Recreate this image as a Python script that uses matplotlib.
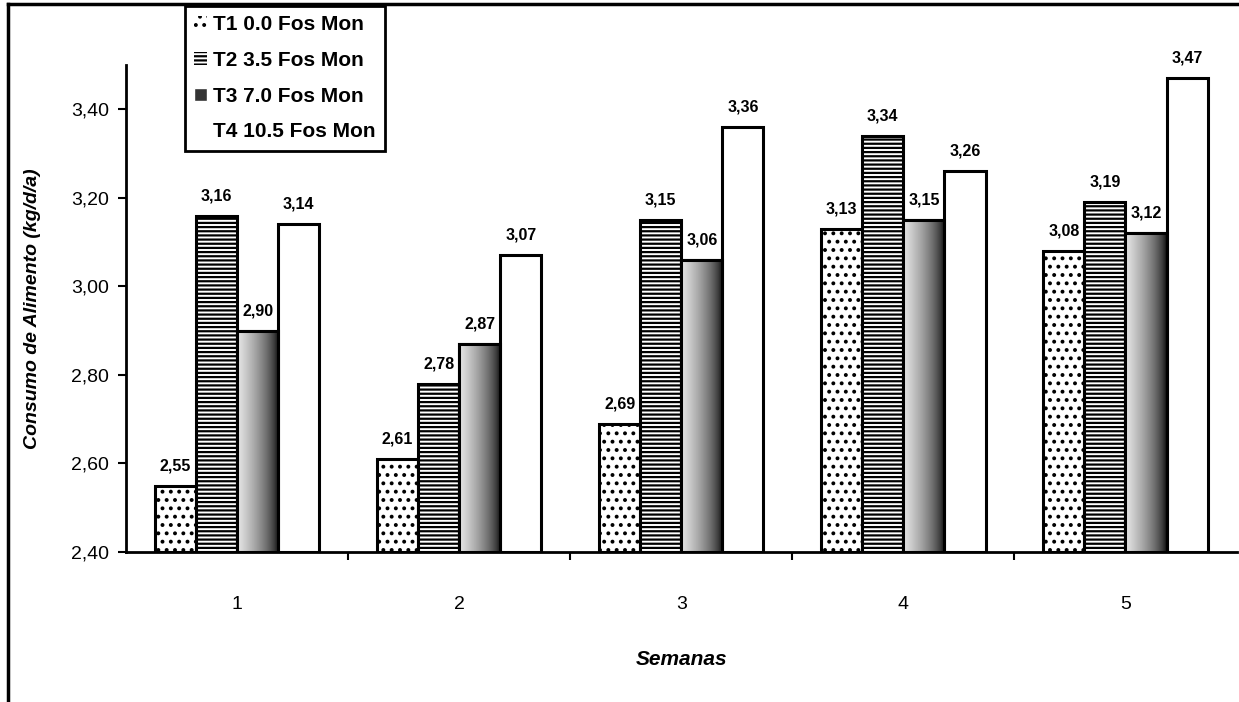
import numpy as np
import matplotlib.pyplot as plt
from matplotlib.lines import Line2D
from matplotlib.patches import Patch
from matplotlib.ticker import FuncFormatter, FixedLocator

plt.rcParams['font.family'] = ['Liberation Sans', 'DejaVu Sans']
plt.rcParams['hatch.linewidth'] = 1.6

semanas = ['1', '2', '3', '4', '5']
series = ['T1 0.0 Fos Mon', 'T2 3.5 Fos Mon', 'T3 7.0 Fos Mon', 'T4 10.5 Fos Mon']
t1 = [2.55, 2.61, 2.69, 3.13, 3.08]
t2 = [3.16, 2.78, 3.15, 3.34, 3.19]
t3 = [2.90, 2.87, 3.06, 3.15, 3.12]
t4 = [3.14, 3.07, 3.36, 3.26, 3.47]
valores = [t1, t2, t3, t4]

fig = plt.figure(figsize=(12.39, 7.02), dpi=100)
ax = fig.add_axes([0.1017, 0.2137, 0.8963, 0.6937])

base = 2.40
w = 0.185
x = np.arange(1, len(semanas) + 1)
estilos = [dict(facecolor='white', hatch='..'),
           dict(facecolor='white', hatch='----'),
           dict(facecolor='white'),
           dict(facecolor='white')]

for i, (vals, st) in enumerate(zip(valores, estilos)):
    pos = x + (i - 1.5) * w
    bars = ax.bar(pos, np.array(vals) - base, bottom=base, width=w,
                  edgecolor='black', linewidth=2.2, label=series[i], **st)
    if i == 2:
        # degradado claro -> negro como en el original
        grad = np.linspace(0.85, 0.0, 64).reshape(1, -1) ** 0.6
        for b in bars:
            x0, y0 = b.get_x(), b.get_y()
            im = ax.imshow(grad, cmap='gray', vmin=0, vmax=1, aspect='auto',
                           extent=[x0, x0 + b.get_width(), y0, y0 + b.get_height()],
                           zorder=b.get_zorder() + 0.1)
            im.set_clip_path(b)
            b2 = plt.Rectangle((x0, y0), b.get_width(), b.get_height(), fill=False,
                               edgecolor='black', linewidth=2.2, zorder=b.get_zorder() + 0.2)
            ax.add_patch(b2)
    for p, v in zip(pos, vals):
        ax.annotate(f'{v:.2f}'.replace('.', ','), (p, v), xytext=(0, 9),
                    textcoords='offset points', ha='center', va='bottom',
                    fontsize=11.5, fontweight='bold')

ax.set_xlim(0.5, 5.5)
ax.set_ylim(2.40, 3.50)
ax.set_yticks(np.arange(2.40, 3.41, 0.20))
ax.yaxis.set_major_formatter(FuncFormatter(lambda v, p: f'{v:.2f}'.replace('.', ',')))
ax.set_xticks(x)
ax.set_xticklabels(semanas)
ax.xaxis.set_minor_locator(FixedLocator(np.arange(1.5, 5.0, 1.0)))
ax.tick_params(axis='x', which='major', length=0, pad=32, labelsize=14)
ax.tick_params(axis='x', which='minor', length=6, width=1.5, direction='out')
ax.tick_params(axis='y', length=6, width=1.5, direction='out', labelsize=14, pad=6)

for s in ['top', 'right']:
    ax.spines[s].set_visible(False)
for s in ['left', 'bottom']:
    ax.spines[s].set_linewidth(2)

ax.set_xlabel('Semanas', fontsize=15, fontweight='bold', style='italic', labelpad=26)
ax.set_ylabel('Consumo de Alimento (kg/d/a)', fontsize=14, fontweight='bold',
              style='italic', labelpad=22)

# simbolos de la leyenda
handles = [Patch(facecolor='white', edgecolor='black', hatch='..', linewidth=0),
           Patch(facecolor='white', edgecolor='black', hatch='----', linewidth=0),
           Patch(facecolor='#333333', edgecolor='white'),
           Patch(facecolor='white', edgecolor='white')]
leg = fig.legend(handles=handles, labels=series, loc='upper left',
                 bbox_to_anchor=(185 / 1239, 1 - 6 / 702), borderaxespad=0,
                 prop=dict(size=15, weight='bold'), handlelength=0.6, handleheight=0.6,
                 handletextpad=0.3, borderpad=0.45, labelspacing=0.8,
                 fancybox=False, framealpha=1)
leg.get_frame().set_edgecolor('black')
leg.get_frame().set_linewidth(2)

# marco exterior del grafico
fig.add_artist(Line2D([8 / 1239, 8 / 1239], [0, 1 - 4 / 702], transform=fig.transFigure,
                      color='black', linewidth=2.5))
fig.add_artist(Line2D([8 / 1239, 1], [1 - 4 / 702, 1 - 4 / 702], transform=fig.transFigure,
                      color='black', linewidth=2.5))

fig.savefig('out.png', dpi=100)
